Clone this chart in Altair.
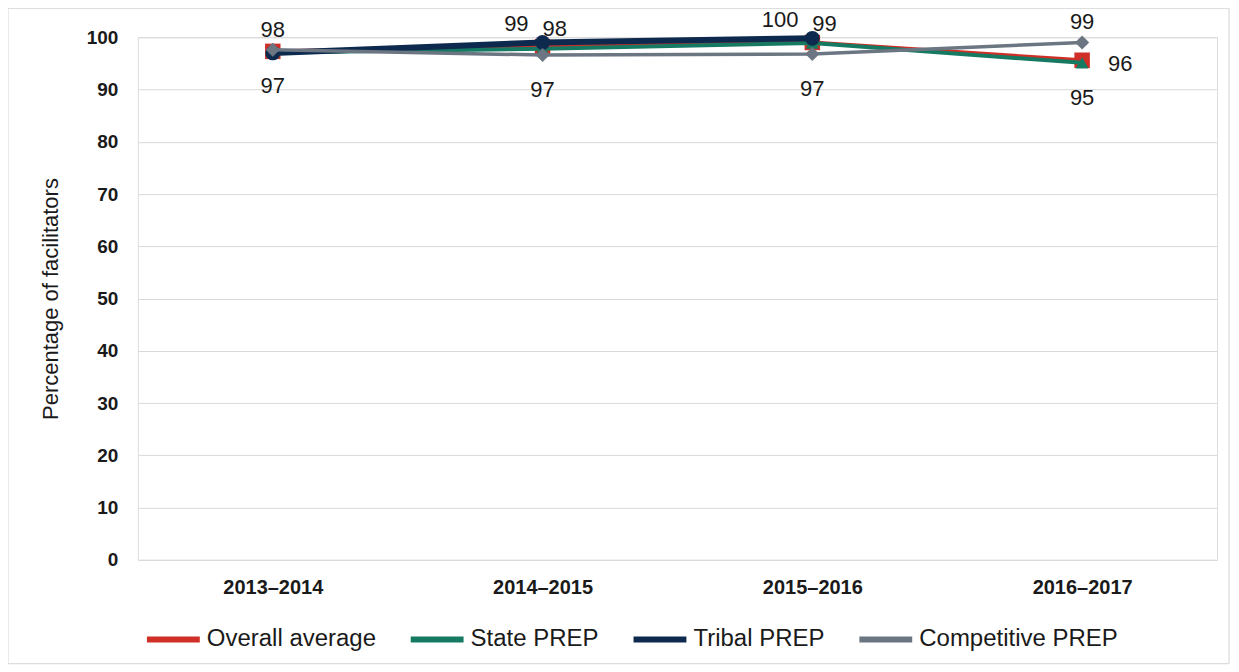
import altair as alt
import pandas as pd

periods = ["2013–2014", "2014–2015", "2015–2016", "2016–2017"]
series = ["Overall average", "State PREP", "Tribal PREP", "Competitive PREP"]
overall = [97.3, 98.2, 99.0, 95.6]
state = [97.1, 97.8, 98.9, 95.1]
tribal = [97.0, 99.0, 99.8, None]
competitive = [97.6, 96.6, 96.8, 99.0]

# where each point's value label sits (None = no label)
label_spots = {
    "Overall average": ["below", "upright", "upright", "right"],
    "State PREP": [None, None, None, "below"],
    "Tribal PREP": [None, "upleft", "upleft", None],
    "Competitive PREP": ["above", "below", "below", "above"],
}

colors = ["#cf2f27", "#167a62", "#0d2a4e", "#6b7682"]
shapes = ["square", "triangle-up", "circle", "diamond"]
widths = [4, 4, 6, 3.5]
sizes = [240, 170, 220, 200]

rows = []
for name, vals in zip(series, [overall, state, tribal, competitive]):
    for p, v, s in zip(periods, vals, label_spots[name]):
        if v is None:
            continue
        rows.append({"period": p, "series": name, "value": v, "spot": s or "none"})
df = pd.DataFrame(rows)

FONT = "Liberation Sans"

x_enc = alt.X("period:N", sort=periods, scale=alt.Scale(padding=0.5),
              axis=alt.Axis(title=None, labelFontSize=20, labelFontWeight="bold",
                            labelColor="#1a1a1a", labelPadding=18, ticks=False,
                            domain=False, labelFont=FONT, labelAngle=0))
y_enc = alt.Y("value:Q", scale=alt.Scale(domain=[0, 100], nice=False),
              axis=alt.Axis(title="Percentage of facilitators", values=list(range(0, 101, 10)),
                            labelFontSize=19, labelFontWeight="bold", labelColor="#1a1a1a",
                            labelPadding=20, ticks=False, domain=False, gridColor="#d9d9d9",
                            titleFontSize=22, titleFontWeight="normal", titleColor="#1a1a1a",
                            titlePadding=24, labelFont=FONT, titleFont=FONT))

legend = alt.Legend(title=None, orient="none", direction="horizontal", legendX=6, legendY=573,
                    symbolType="stroke", symbolStrokeWidth=6, symbolSize=2800,
                    labelFontSize=24, labelFont=FONT, labelColor="#1a1a1a", labelLimit=0,
                    columnPadding=22, symbolOffset=0, labelOffset=4)
color_enc = alt.Color("series:N", scale=alt.Scale(domain=series, range=colors),
                      sort=series, legend=legend)

base = alt.Chart(df)
layers = []
for name, shp, w, sz in zip(series, shapes, widths, sizes):
    sub = base.transform_filter(alt.datum.series == name)
    layers.append(sub.mark_line(strokeWidth=w).encode(x=x_enc, y=y_enc, color=color_enc))
    layers.append(sub.mark_point(shape=shp, filled=True, size=sz, opacity=1).encode(
        x=x_enc, y=y_enc, color=color_enc))

spot_style = {
    "above": dict(align="center", dx=0, dy=-20),
    "below": dict(align="center", dx=0, dy=35),
    "upleft": dict(align="right", dx=-14, dy=-18),
    "upright": dict(align="left", dx=0, dy=-18),
    "right": dict(align="left", dx=26, dy=4),
}
for spot, st in spot_style.items():
    layers.append(base.transform_filter(alt.datum.spot == spot).mark_text(
        font=FONT, fontSize=22, color="#1a1a1a", baseline="middle", **st
    ).encode(x=x_enc, y=y_enc, text=alt.Text("value:Q", format=".0f")))

frame = alt.Chart(alt.Data(values=[{}])).mark_rect(fill=None, stroke="#d4d4d4", strokeWidth=1).encode(
    x=alt.value(-130), x2=alt.value(1092), y=alt.value(-29), y2=alt.value(627))
layers.append(frame)

chart = alt.layer(*layers).properties(
    width=1080, height=523,
    autosize=alt.AutoSizeParams(type="none"),
    padding={"left": 130, "top": 29, "right": 14, "bottom": 105},
).configure_view(stroke=None).configure(background="white")

chart.save("out.html", embed_options={"renderer": "svg", "actions": False})
